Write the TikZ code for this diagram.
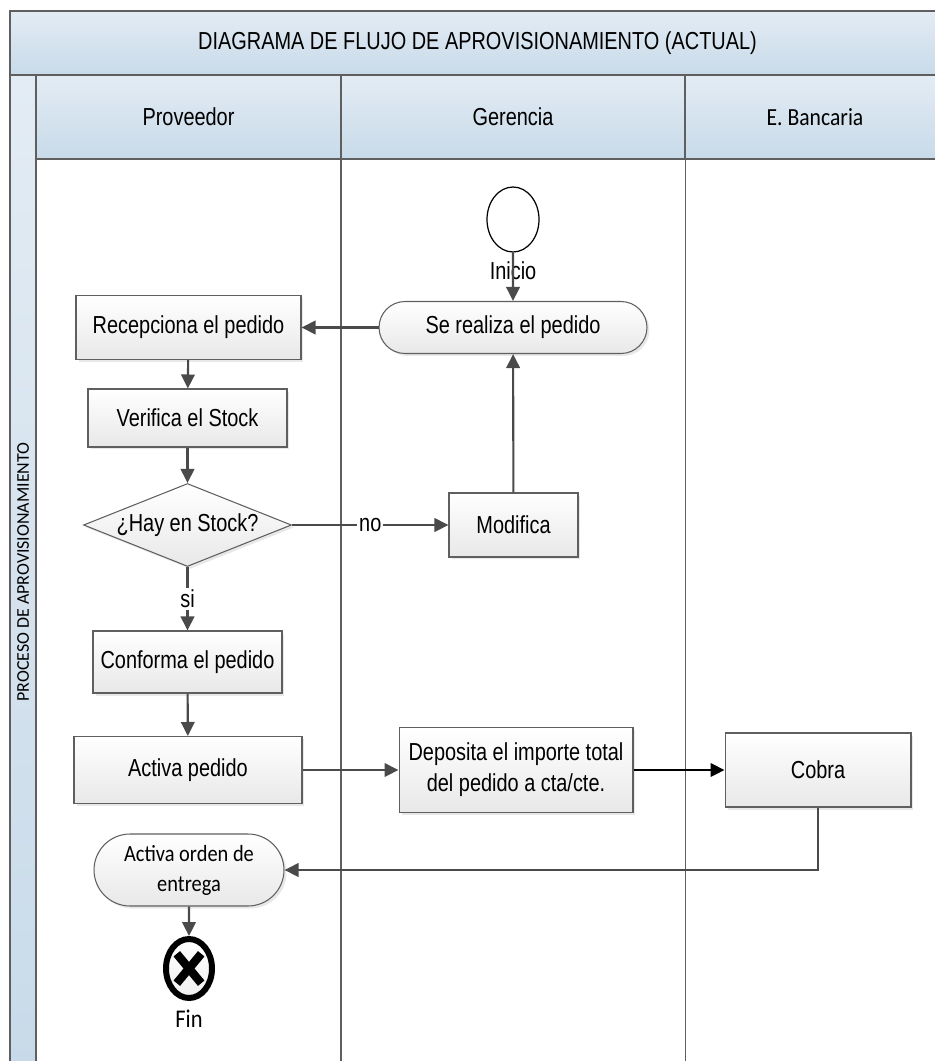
\documentclass[tikz,border=0pt]{standalone}
\usepackage{fontspec}
\setmainfont[FakeStretch=0.81]{Liberation Sans}
\newfontfamily\calibrifont[FakeStretch=0.88]{Carlito}
\newfontfamily\carrilfont{Carlito}
\usetikzlibrary{arrows.meta, shadows, shapes.geometric, shapes.misc}

\definecolor{linea}{HTML}{4A4A4A}
\definecolor{borde}{HTML}{5F5F5F}
\definecolor{azulclaro}{HTML}{E3ECF4}
\definecolor{azulmedio}{HTML}{C8DAE9}
\tikzset{
    cabecera/.style={draw=borde, line width=1.1pt, top color=azulclaro, bottom color=azulmedio, inner sep=0pt, font=\fontsize{14}{16}\selectfont},
    sombra/.style={drop shadow={shadow xshift=0.05cm, shadow yshift=-0.05cm, fill=black!15, opacity=0.6}},
    tarea/.style={draw=borde, line width=0.6pt, sombra, top color=white, bottom color=black!9, inner sep=0pt, align=center, font=\fontsize{14}{17.5}\selectfont},
    terminal/.style={tarea, rounded rectangle},
    decision/.style={tarea, diamond, aspect=2.5},
    flecha/.style={draw=linea, line width=1.2pt, -{Triangle[length=0.28cm, width=0.27cm]}},
    rotulo/.style={font=\fontsize{14}{16}\selectfont, inner sep=1pt},
}

\begin{document}
\begin{tikzpicture}[x=0.02cm, y=-0.02cm]
        \useasboundingbox (0, 0) rectangle (935, 1061);
        \clip (0, 0) rectangle (935, 1061);

        \draw[borde, line width=1pt] (341, 159) -- (341, 1070);
        \draw[borde, line width=0.8pt] (685.5, 159) -- (685.5, 1070);

        \node[cabecera, minimum width=18.7cm, minimum height=1.28cm] (titulo) at (477.5, 43) {DIAGRAMA DE FLUJO DE APROVISIONAMIENTO (ACTUAL)};
        \node[cabecera, rotate=90, minimum width=19.88cm, minimum height=0.52cm, font=\carrilfont\fontsize{10.2}{12}\selectfont] (proceso) at (23, 572) {PROCESO DE APROVISIONAMIENTO};
        \node[cabecera, minimum width=6.1cm, minimum height=1.68cm] (proveedor) at (188.5, 117) {Proveedor};
        \node[cabecera, minimum width=6.88cm, minimum height=1.68cm] (gerencia) at (513, 117) {Gerencia};
        \node[cabecera, minimum width=5.2cm, minimum height=1.68cm, font=\calibrifont\fontsize{14}{16}\selectfont] (bancaria) at (815, 117) {E. Bancaria};

        \node[draw=black, line width=0.7pt, fill=white, ellipse, minimum width=1.04cm, minimum height=1.3cm, inner sep=0pt] (inicio) at (513, 219.5) {};
        \node[rotulo] (inicioTexto) at (513, 271) {Inicio};
        \node[terminal, minimum width=5.36cm, minimum height=1.04cm] (pedido) at (513, 327.5) {Se realiza el pedido};
        \node[tarea, minimum width=4.5cm, minimum height=1.28cm] (recepciona) at (188.5, 327.5) {Recepciona el pedido};
        \node[tarea, minimum width=3.98cm, minimum height=1.16cm] (verifica) at (187.5, 418) {Verifica el Stock};
        \node[decision, minimum width=4.16cm, minimum height=1.66cm] (stock) at (187.5, 525) {¿Hay en Stock?};
        \node[tarea, minimum width=2.58cm, minimum height=1.28cm] (modifica) at (513.5, 525) {Modifica};
        \node[tarea, minimum width=3.78cm, minimum height=1.24cm] (conforma) at (187.5, 662) {Conforma el pedido};
        \node[tarea, minimum width=4.56cm, minimum height=1.34cm] (activa) at (188, 770) {Activa pedido};
        \node[tarea, minimum width=4.68cm, minimum height=1.7cm] (deposita) at (516, 770) {Deposita el importe total\\del pedido a cta/cte.};
        \node[tarea, minimum width=3.72cm, minimum height=1.48cm] (cobra) at (818, 770) {Cobra};
        \node[terminal, minimum width=3.8cm, minimum height=1.44cm, font=\calibrifont\fontsize{13.2}{17}\selectfont] (orden) at (189, 870) {Activa orden de\\entrega};
        \node[draw=black, line width=3.4pt, sombra, top color=white, bottom color=black!6, ellipse, minimum width=0.92cm, minimum height=1.18cm, inner sep=0pt] (fin) at (189, 968.5) {};
        \node[draw=black, line width=4.8pt, cross out, minimum width=0.32cm, minimum height=0.42cm, inner sep=0pt] (finCruz) at (fin) {};
        \node[rotulo, font=\calibrifont\fontsize{14.5}{16}\selectfont] (finTexto) at (189, 1019) {Fin};

        \draw[flecha] (inicio) -- (pedido);
        \draw[flecha] (pedido) -- (recepciona);
        \draw[flecha] (recepciona) -- (verifica);
        \draw[flecha] (verifica) -- (stock);
        \draw[flecha] (stock) -- node[rotulo, fill=white, pos=0.5] (no) {no} (modifica);
        \draw[flecha] (modifica) -- (pedido);
        \draw[flecha] (stock) -- node[rotulo, fill=white, pos=0.5] (si) {si} (conforma);
        \draw[flecha] (conforma) -- (activa);
        \draw[flecha] (activa) -- (deposita);
        \draw[flecha, draw=black, line width=1.4pt] (deposita) -- (cobra);
        \draw[flecha] (cobra.south) |- (orden.east);
        \draw[flecha] (orden) -- (fin);
    \end{tikzpicture}
\end{document}
